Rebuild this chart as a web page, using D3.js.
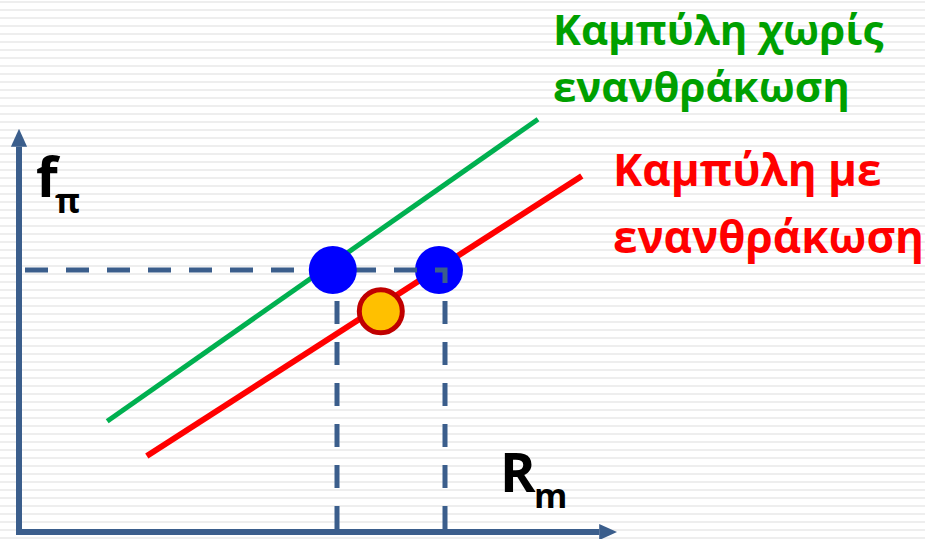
<!DOCTYPE html>
<html>
<head>
<meta charset="utf-8">
<script src="https://d3js.org/d3.v7.min.js"></script>
<style>
  html, body { margin: 0; padding: 0; background: #fff; }
  svg { display: block; }
  text { font-family: "Open Sans", "Noto Sans", sans-serif; font-weight: bold; }
</style>
</head>
<body>
<svg width="925" height="539"></svg>
<script>
// curves, in arbitrary axis units (0..100)
var greenCurve = [[14.7, 27.7], [86.5, 103.2]];   // without carbonation
var redCurve   = [[21.3, 19.0], [93.8, 89.0]];    // with carbonation
var bluePoints = [[52.3, 65.5], [70.0, 65.5]];
var orangePoint = [60.3, 55.2];
var levelY = 65.5;
var guideX = [53, 71];

var greenLabel = ["Καμπύλη χωρίς", "ενανθράκωση"];
var redLabel = ["Καμπύλη με", "ενανθράκωση"];

var svg = d3.select("svg"),
    width = +svg.attr("width"),
    height = +svg.attr("height");

var x = d3.scaleLinear().domain([0, 100]).range([19, 619]);
var y = d3.scaleLinear().domain([0, 100]).range([532, 132]);

// striped background
var defs = svg.append("defs");
defs.append("pattern")
    .attr("id", "stripes")
    .attr("patternUnits", "userSpaceOnUse")
    .attr("width", 8).attr("height", 8)
  .append("rect")
    .attr("x", 0).attr("y", 1).attr("width", 8).attr("height", 2)
    .attr("fill", "#eeeeee");

svg.append("rect").attr("width", width).attr("height", height).attr("fill", "#fff");
svg.append("rect").attr("width", width).attr("height", height).attr("fill", "url(#stripes)");

defs.append("marker")
    .attr("id", "arrow")
    .attr("viewBox", "0 -5 10 10")
    .attr("refX", 0).attr("refY", 0)
    .attr("markerUnits", "userSpaceOnUse")
    .attr("markerWidth", 18).attr("markerHeight", 18)
    .attr("orient", "auto")
  .append("path")
    .attr("d", "M0,-4.5L10,0L0,4.5Z")
    .attr("fill", "#3b5e8c");

var axisColor = "#3b5e8c";

// axes
svg.append("path")
    .attr("d", "M" + x(-0.5) + "," + y(0) + "H" + x(96.7))
    .attr("stroke", axisColor).attr("stroke-width", 6).attr("fill", "none")
    .attr("marker-end", "url(#arrow)");
svg.append("path")
    .attr("d", "M" + x(0) + "," + y(-0.5) + "V" + y(96.3))
    .attr("stroke", axisColor).attr("stroke-width", 6).attr("fill", "none")
    .attr("marker-end", "url(#arrow)");

var line = d3.line()
    .x(function(d) { return x(d[0]); })
    .y(function(d) { return y(d[1]); });

svg.append("path").datum(greenCurve)
    .attr("d", line).attr("stroke", "#00b050").attr("stroke-width", 5).attr("fill", "none");
svg.append("path").datum(redCurve)
    .attr("d", line).attr("stroke", "#ff0000").attr("stroke-width", 6).attr("fill", "none");

// right blue point sits under the dashed guide
svg.append("circle")
    .attr("cx", x(bluePoints[1][0])).attr("cy", y(bluePoints[1][1])).attr("r", 24)
    .attr("fill", "#0000ff");

svg.append("path")
    .attr("d", "M" + x(1) + "," + y(levelY) + "H" + x(guideX[1]) + "V" + y(0))
    .attr("stroke", axisColor).attr("stroke-width", 5).attr("fill", "none")
    .attr("stroke-dasharray", "23 18");
svg.append("path")
    .attr("d", "M" + x(guideX[0]) + "," + y(68) + "V" + y(0))
    .attr("stroke", axisColor).attr("stroke-width", 5).attr("fill", "none")
    .attr("stroke-dasharray", "23 18");

svg.append("circle")
    .attr("cx", x(bluePoints[0][0])).attr("cy", y(bluePoints[0][1])).attr("r", 24)
    .attr("fill", "#0000ff");

svg.append("circle")
    .attr("cx", x(orangePoint[0])).attr("cy", y(orangePoint[1])).attr("r", 21.5)
    .attr("fill", "#ffc000").attr("stroke", "#c00000").attr("stroke-width", 5);

// axis labels
var fl = svg.append("text").attr("x", 36).attr("y", 197).attr("font-size", 56).attr("fill", "#000");
fl.append("tspan").text("f");
fl.append("tspan").attr("x", 55).attr("y", 213).attr("font-size", 34).text("π");

var rl = svg.append("text").attr("x", 500).attr("y", 492).attr("font-size", 54).attr("fill", "#000");
rl.append("tspan").text("R");
rl.append("tspan").attr("x", 534).attr("y", 508).attr("font-size", 34).text("m");

// curve labels
svg.selectAll(".glabel").data(greenLabel).enter().append("text")
    .attr("class", "glabel")
    .attr("x", 553).attr("y", function(d, i) { return 45 + i * 57; })
    .attr("font-size", 42).attr("fill", "#00a000")
    .text(function(d) { return d; });

svg.selectAll(".rlabel").data(redLabel).enter().append("text")
    .attr("class", "rlabel")
    .attr("x", 613).attr("y", function(d, i) { return 186 + i * 67; })
    .attr("font-size", 44).attr("fill", "#ff0000")
    .text(function(d) { return d; });
</script>
</body>
</html>
